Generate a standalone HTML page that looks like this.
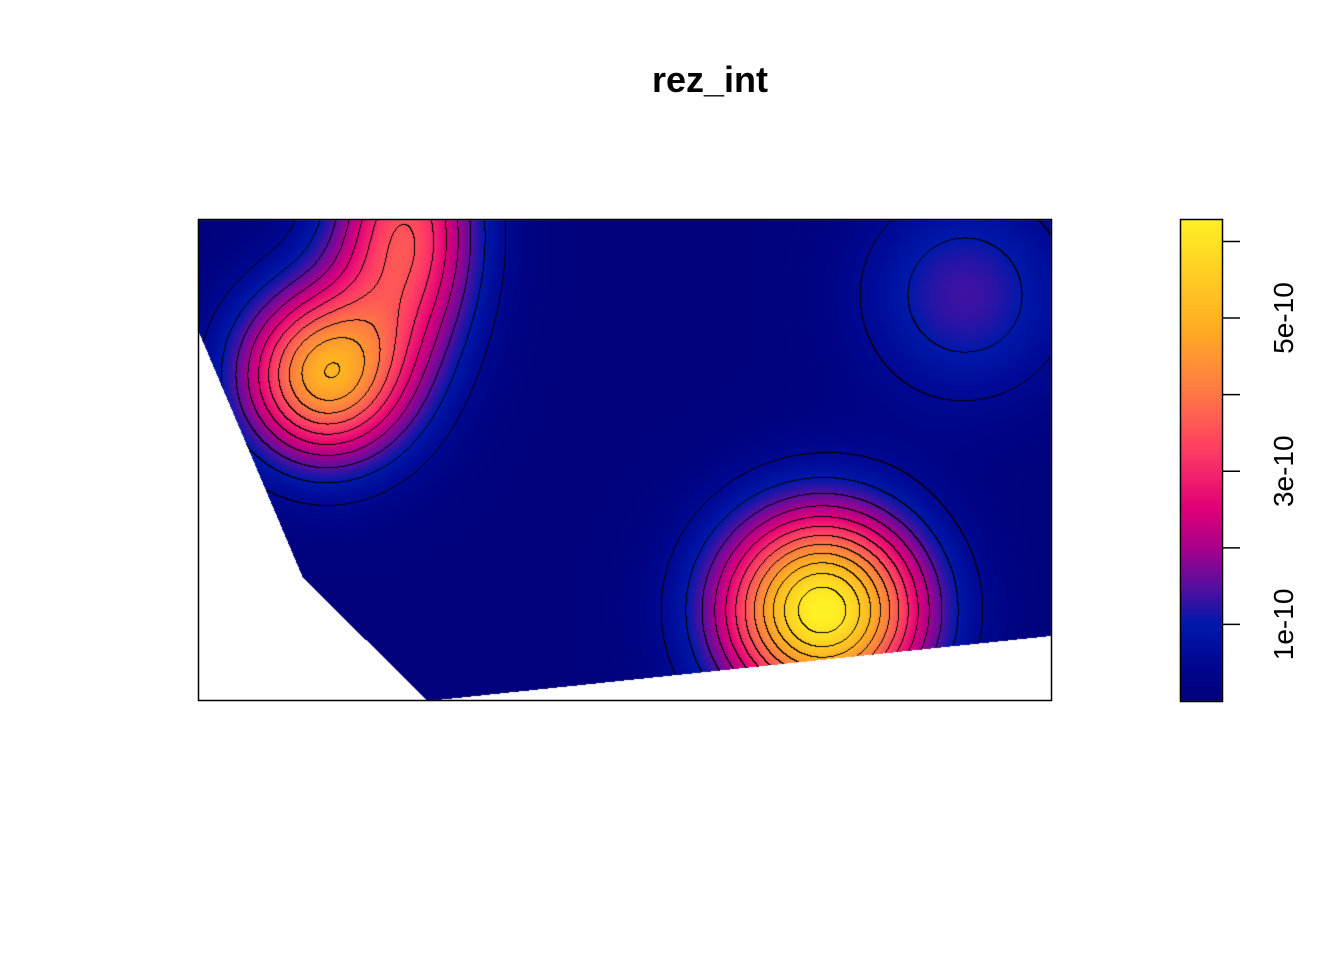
<!DOCTYPE html>
<html><head><meta charset="utf-8">
<style>
html,body{margin:0;padding:0;background:#fff;}
#wrap{position:relative;width:1344px;height:960px;overflow:hidden;font-family:"Liberation Sans",sans-serif;}
canvas{position:absolute;left:0;top:0;}
svg{position:absolute;left:0;top:0;}
</style></head>
<body>
<div id="wrap">
<canvas id="cv" width="1344" height="960"></canvas>
<svg id="sv" width="1344" height="960">
<text x="710" y="92" text-anchor="middle" font-size="36" font-weight="bold" font-family="Liberation Sans, sans-serif">rez_int</text>
<rect x="198.5" y="219.5" width="853" height="481" fill="none" stroke="#000" stroke-width="1.5"/>
<g id="cbar"></g>
</svg>
</div>
<script>
// field model data: peaks (pixel centres in plot coords), amplitudes, spreads
const peakX = [325, 405, 822, 965];
const peakY = [375, 235, 610, 295];
const peakAmp = [4.7e-10, 3.4e-10, 6.3e-10, 1.3e-10];
const peakSx = [58, 50, 70, 72];
const peakSy = [60, 85, 68, 72];
const background = 5e-12;
const contourStep = 5e-11;
const cbarTicks = [1e-10, 2e-10, 3e-10, 4e-10, 5e-10, 6e-10];
const cbarLabels = ["1e-10", "3e-10", "5e-10"];
const cbarLabelVals = [1e-10, 3e-10, 5e-10];
const vMin = 0, vMax = 6.28e-10;

const PX0=198, PX1=1051, PY0=220, PY1=701;
const CB0=1180, CB1=1222;
function cbY(v){ return PY1 - (v - vMin)/(vMax - vMin)*(PY1-PY0); }

const stops=[[0,[0,0,120]],[0.09,[0,10,150]],[0.16,[0,25,170]],[0.24,[90,15,160]],[0.32,[170,0,140]],[0.40,[225,0,120]],[0.52,[255,60,100]],[0.64,[255,120,70]],[0.78,[255,175,35]],[1,[255,240,35]]];
function col(v){
  let t=Math.max(0,Math.min(1,(v-vMin)/(vMax-vMin)));
  for(let i=1;i<stops.length;i++){ if(t<=stops[i][0]){const a=stops[i-1],b=stops[i];const f=(t-a[0])/(b[0]-a[0]);return [0,1,2].map(k=>a[1][k]+(b[1][k]-a[1][k])*f);} }
  return stops[stops.length-1][1];
}
function field(x,y){
  let v=background;
  for(let i=0;i<peakX.length;i++){const dx=(x-peakX[i])/peakSx[i],dy=(y-peakY[i])/peakSy[i];v+=peakAmp[i]*Math.exp(-0.5*(dx*dx+dy*dy));}
  return v;
}
const mask=[[198,220],[1051,220],[1051,636],[428,701],[303,578],[198,330]];
function inside(x,y){let c=false;for(let i=0,j=mask.length-1;i<mask.length;j=i++){const [xi,yi]=mask[i],[xj,yj]=mask[j];if(((yi>y)!=(yj>y))&&(x<(xj-xi)*(y-yi)/(yj-yi)+xi))c=!c;}return c;}

const ctx=document.getElementById('cv').getContext('2d');
const W=PX1-PX0,H=PY1-PY0;
const img=ctx.createImageData(W,H);
const band=new Int16Array((W+1)*(H+1));
for(let j=0;j<=H;j++)for(let i=0;i<=W;i++)band[j*(W+1)+i]=Math.floor(field(PX0+i,PY0+j)/contourStep);
for(let j=0;j<H;j++)for(let i=0;i<W;i++){
  const x=PX0+i+0.5,y=PY0+j+0.5,p=(j*W+i)*4;
  if(!inside(x,y)){img.data[p]=255;img.data[p+1]=255;img.data[p+2]=255;img.data[p+3]=255;continue;}
  const b=band[j*(W+1)+i];
  let c;
  if(b!==band[j*(W+1)+i+1]||b!==band[(j+1)*(W+1)+i]) c=[0,0,0];
  else c=col(field(x,y));
  img.data[p]=c[0];img.data[p+1]=c[1];img.data[p+2]=c[2];img.data[p+3]=255;
}
ctx.putImageData(img,PX0,PY0);
// colour bar
for(let y=PY0;y<PY1;y++){const c=col(vMin+(PY1-y-0.5)/(PY1-PY0)*(vMax-vMin));ctx.fillStyle=`rgb(${c[0]|0},${c[1]|0},${c[2]|0})`;ctx.fillRect(CB0,y,CB1-CB0,1);}

const NS="http://www.w3.org/2000/svg";
const g=document.getElementById('cbar');
const fr=document.createElementNS(NS,'rect');
fr.setAttribute('x',CB0+0.5);fr.setAttribute('y',PY0-0.5);fr.setAttribute('width',CB1-CB0);fr.setAttribute('height',PY1-PY0+1);
fr.setAttribute('fill','none');fr.setAttribute('stroke','#000');fr.setAttribute('stroke-width','1.5');


g.appendChild(fr);
cbarTicks.forEach(v=>{
  const l=document.createElementNS(NS,'line');
  l.setAttribute('x1',CB1);l.setAttribute('x2',CB1+18);l.setAttribute('y1',cbY(v));l.setAttribute('y2',cbY(v));
  l.setAttribute('stroke','#000');l.setAttribute('stroke-width','1.5');
  
  
  g.appendChild(l);
});
cbarLabels.forEach((s,i)=>{
  const t=document.createElementNS(NS,'text');
  const y=cbY(cbarLabelVals[i]);
  t.setAttribute('x',0);t.setAttribute('y',0);
  t.setAttribute('transform',`translate(1293,${y}) rotate(-90)`);
  t.setAttribute('text-anchor','middle');t.setAttribute('font-size','28');
  t.setAttribute('font-family','Liberation Sans, sans-serif');
  t.textContent=s;
  
  
  g.appendChild(t);
});
</script>
</body></html>
